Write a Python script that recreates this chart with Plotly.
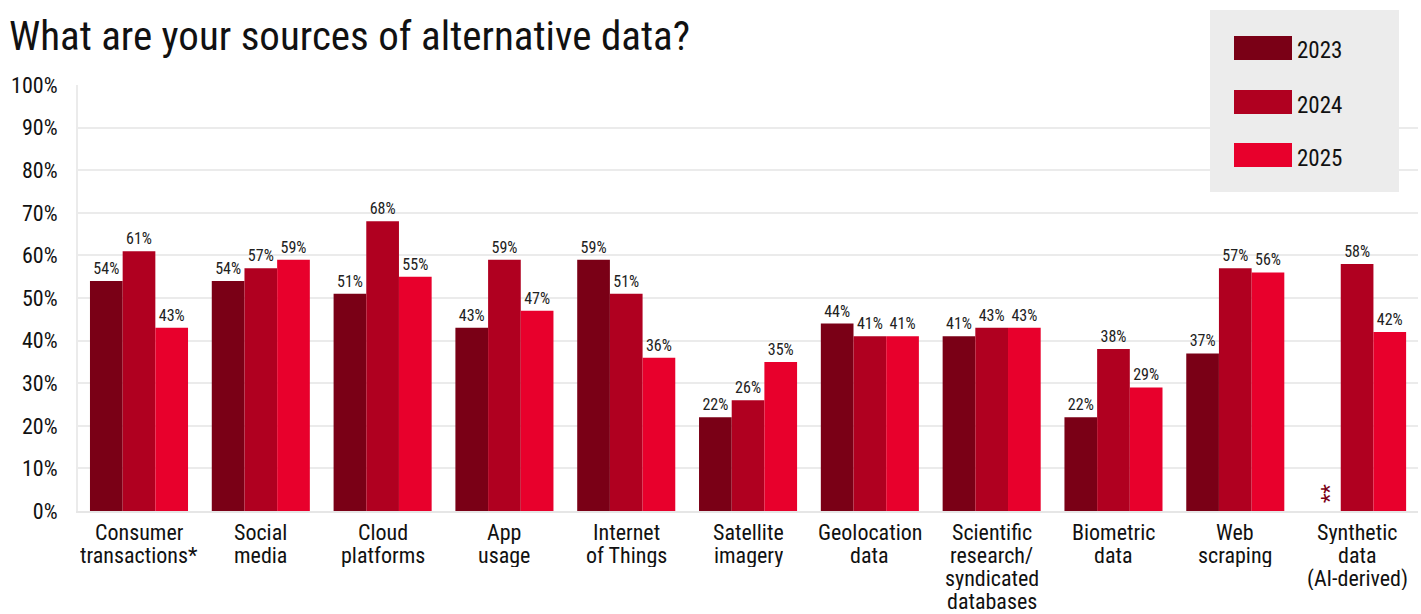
import plotly.graph_objects as go

# Survey categories (one entry per printed line under each group)
categories = [
    ["Consumer", "transactions*"],
    ["Social", "media"],
    ["Cloud", "platforms"],
    ["App", "usage"],
    ["Internet", "of Things"],
    ["Satellite", "imagery"],
    ["Geolocation", "data"],
    ["Scientific", "research/", "syndicated", "databases"],
    ["Biometric", "data"],
    ["Web", "scraping"],
    ["Synthetic", "data", "(AI-derived)"],
]
cat_keys = [" ".join(c) for c in categories]

years = ["2023", "2024", "2025"]

# Share of respondents using each source (%); None = not asked that year
values_2023 = [54, 54, 51, 43, 59, 22, 44, 41, 22, 37, None]
values_2024 = [61, 57, 68, 59, 51, 26, 41, 43, 38, 57, 58]
values_2025 = [43, 59, 55, 47, 36, 35, 41, 43, 29, 56, 42]

y_ticks = [0, 10, 20, 30, 40, 50, 60, 70, 80, 90, 100]

colors = ["#7a0016", "#b00020", "#e8002c"]
FONT = "Roboto Condensed, Liberation Sans Narrow, DejaVu Sans Condensed, Roboto, sans-serif"
INK = "#111111"

fig = go.Figure()
for year, vals, col in zip(years, [values_2023, values_2024, values_2025], colors):
    fig.add_trace(go.Bar(
        x=cat_keys,
        y=vals,
        name=year,
        marker=dict(color=col, line=dict(width=0)),
        text=[f"{v}%" if v is not None else "" for v in vals],
        textposition="outside",
        cliponaxis=False,
        textfont=dict(family=FONT, size=16, color="#222222"),
        showlegend=False,
    ))

# Plot-area geometry in pixels (used to place legend, title and labels)
W, H = 1421, 614
L, R, T, B = 78, 3, 85, 103
pw, ph = W - L - R, H - T - B


def px(x):
    return (x - L) / pw


def py(y):
    return (H - B - y) / ph


shapes = [
    dict(type="rect", xref="paper", yref="paper",
         x0=px(1210), x1=px(1399), y0=py(192), y1=py(10),
         fillcolor="#ececec", line=dict(width=0), layer="above"),
]
annotations = []
for i, (year, col) in enumerate(zip(years, colors)):
    top = [36, 90, 143][i]
    shapes.append(dict(type="rect", xref="paper", yref="paper",
                       x0=px(1234), x1=px(1292), y0=py(top + 24), y1=py(top),
                       fillcolor=col, line=dict(width=0), layer="above"))
    annotations.append(dict(xref="paper", yref="paper", x=px(1295), y=py(top + 15),
                            text=year, showarrow=False, xanchor="left", yanchor="middle",
                            font=dict(family=FONT, size=23, color=INK)))

# Category labels, tightly spaced lines
for key, lines in zip(cat_keys, categories):
    for j, line in enumerate(lines):
        annotations.append(dict(x=key, xref="x", yref="paper", y=py(532 + 23 * j),
                                text=line, showarrow=False, xanchor="center",
                                yanchor="middle", height=23,
                                font=dict(family=FONT, size=22, color=INK)))

# Marker for the year with no data: two asterisks stacked vertically
annotations.append(dict(x=cat_keys[-1], xref="x", xshift=-28, yref="paper",
                        y=py(494), text="**", showarrow=False, textangle=-90,
                        xanchor="center", yanchor="middle",
                        font=dict(family=FONT, size=22, color="#7a0016")))

# Title
annotations.append(dict(xref="paper", yref="paper", x=px(7), y=py(36),
                        text="What are your sources of alternative data?",
                        showarrow=False, xanchor="left", yanchor="middle",
                        font=dict(family=FONT, size=41, color=INK)))

fig.update_layout(
    width=W, height=H,
    margin=dict(l=L, r=R, t=T, b=B, autoexpand=False),
    barmode="group",
    bargap=0.195,
    bargroupgap=0,
    plot_bgcolor="white",
    paper_bgcolor="white",
    font=dict(family=FONT, color=INK),
    shapes=shapes,
    annotations=annotations,
)
fig.update_xaxes(
    showticklabels=False, automargin=False,
    showline=True, linecolor="#e6e6e6", linewidth=2,
    ticks="", showgrid=False,
)
fig.update_yaxes(
    range=[0, 100], automargin=False,
    tickvals=y_ticks,
    ticktext=[f"{t}%" for t in y_ticks],
    tickfont=dict(family=FONT, size=22, color=INK),
    showgrid=True, gridcolor="#ebebeb", gridwidth=2,
    showline=True, linecolor="#ebebeb", linewidth=2,
    zeroline=False,
    ticks="", ticklabelstandoff=14,
)

fig.write_html("out.html")
